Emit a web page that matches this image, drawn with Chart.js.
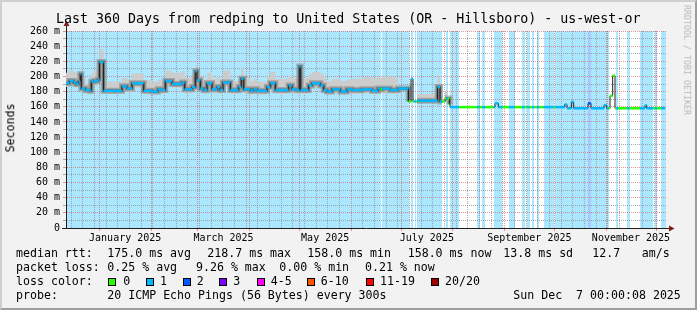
<!DOCTYPE html>
<html lang="en">
<head>
<meta charset="UTF-8">
<title>redping - us-west-or</title>
<script src="https://cdn.jsdelivr.net/npm/chart.js"></script>
<style>
  html, body { margin: 0; padding: 0; background: #f2f2f2; }
  #frame { position: relative; width: 697px; height: 310px; background: #f2f2f2; overflow: hidden;
           font-family: "DejaVu Sans Mono", monospace; color: #000; }
  #frame canvas { position: absolute; left: 0; top: 0; }
  .t { position: absolute; white-space: pre; line-height: 1; }
  .lg { font-size: 11.6px; }
  .box { position: absolute; width: 6px; height: 6px; border: 1px solid #000; }
  #shade { position: absolute; left: 0; top: 0; width: 697px; height: 310px; box-sizing: border-box;
           border-top: 2px solid #cfcfcf; border-left: 2px solid #cfcfcf;
           border-right: 2px solid #9e9e9e; border-bottom: 2px solid #9e9e9e; pointer-events: none; }
</style>
</head>
<body>
<div id="frame">
  <canvas id="c" width="697" height="310"></canvas>
  <div class="t" style="left:56px; top:12px; font-size:13.3px;">Last 360 Days from redping to United States (OR - Hillsboro) - us-west-or</div>
  <div class="t lg" style="left:10.5px; top:128px; transform:translate(-50%,-50%) rotate(-90deg);">Seconds</div>
  <div class="t" style="left:687px; top:60px; font-size:8.3px; color:#b8b8b8; transform:translate(-50%,-50%) rotate(90deg);">RRDTOOL / TOBI OETIKER</div>

  <div class="t lg" style="left:16px; top:247.5px;">median rtt:</div>
  <div class="t lg" style="left:107.3px; top:247.5px;">175.0 ms avg</div>
  <div class="t lg" style="left:207.3px; top:247.5px;">218.7 ms max</div>
  <div class="t lg" style="left:307.3px; top:247.5px;">158.0 ms min</div>
  <div class="t lg" style="left:407.7px; top:247.5px;">158.0 ms now</div>
  <div class="t lg" style="left:503.3px; top:247.5px;">13.8 ms sd</div>
  <div class="t lg" style="left:592.3px; top:247.5px;">12.7</div>
  <div class="t lg" style="left:641.7px; top:247.5px;">am/s</div>

  <div class="t lg" style="left:16px; top:261.5px;">packet loss:</div>
  <div class="t lg" style="left:107.3px; top:261.5px;">0.25 % avg</div>
  <div class="t lg" style="left:196px; top:261.5px;">9.26 % max</div>
  <div class="t lg" style="left:279.3px; top:261.5px;">0.00 % min</div>
  <div class="t lg" style="left:365px; top:261.5px;">0.21 % now</div>

  <div class="t lg" style="left:16px; top:275.5px;">loss color:</div>
  <div id="lossLegend"></div>

  <div class="t lg" style="left:16px; top:289.5px;">probe:</div>
  <div class="t lg" style="left:107.3px; top:289.5px;">20 ICMP Echo Pings (56 Bytes) every 300s</div>
  <div class="t lg" style="left:513.3px; top:289.5px;">Sun Dec  7 00:00:08 2025</div>
  <div id="shade"></div>
</div>
<script>
// day 0 = Dec 12 2024, day 360 = Dec 7 2025
// median rtt steps: each entry holds from medDay[i] to the next one
const medDay = [
  0, 2.0, 4.6, 6.0, 7.6, 8.6, 9.2, 11.6, 14.6, 15.2,
  16.6, 19.2, 20.1, 22.5, 33.6, 36.6, 39.6, 46.6, 51.6, 55.2,
  57.6, 59.6, 63.6, 69.6, 71.2, 75.6, 77.6, 78.6, 80.6, 82.6,
  84.6, 87.6, 90.6, 92.4, 94.2, 98.6, 103.6, 105.2, 106.6, 110.6,
  112.6, 114.6, 120.6, 122.6, 125.6, 133.6, 135.6, 138.6, 140.0, 140.8,
  145.6, 147.6, 152.6, 154.6, 156.6, 159.6, 164.6, 168.6, 171.6, 177.6,
  183.6, 187.2, 188.7, 189.6, 194.4, 199.2, 205.5, 207.0, 208.2, 209.1,
  210.0, 210.6, 222.9, 224.4, 225.6, 227.4, 228.0, 228.9, 230.1, 230.4,
  235.8, 246.6, 248.1, 249.6, 251.7, 256.5, 257.4, 259.4, 261.9, 265.8,
  269.1, 273.6, 275.2, 276.6, 278.1, 279.6, 281.0, 282.4, 284.0, 286.6,
  292.5, 293.4, 299.2, 300.6, 303.2, 304.6, 313.2, 315.0, 322.8, 324.3,
  325.6, 326.4, 328.0, 329.4, 330.0, 331.2, 336.6, 338.1, 344.4, 347.4,
  348.4, 352.2, 353.4, 354.6, 357.0
];
const medVal = [
  191, 194, 192, 190, 193, 203, 184, 182, 181, 193,
  194, 196, 219, 181, 187, 184, 191, 181, 180, 183,
  182, 194, 190, 192, 183, 186, 207, 195, 184, 182,
  191, 183, 186, 182, 192, 182, 186, 197, 183, 181,
  183, 181, 186, 191, 182, 188, 183, 182, 213, 182,
  188, 191, 188, 182, 180, 183, 180, 183, 182, 183,
  181, 184, 183, 184, 182, 184, 167, 197, 167, 167,
  167, 168, 186, 167, 167, 171, 171, 171, 163, 159.5,
  159.5, 159.5, 159.5, 159.5, 159.5, 159.5, 164.5, 159.5, 159.5, 159.5,
  159.5, 159.5, 159.5, 159.5, 159.5, 159.5, 159.5, 159.5, 159.5, 159.5,
  159.5, 159.5, 163, 158, 166.5, 158, 164.5, 158, 162, 158,
  158, 174.5, 201, 158, 158, 158, 158, 158, 158, 162,
  158, 158, 158, 158, 158
];
// lost pings out of 20 for each step
const medLoss = [
  1, 1, 1, 1, 1, 1, 1, 1, 1, 1,
  1, 1, 1, 1, 1, 1, 1, 1, 1, 1,
  1, 1, 1, 1, 1, 1, 1, 1, 1, 1,
  1, 1, 1, 1, 1, 1, 1, 1, 1, 1,
  1, 1, 1, 1, 1, 1, 1, 1, 1, 1,
  1, 1, 1, 1, 1, 1, 1, 1, 1, 1,
  1, 1, 0, 1, 1, 1, 0, 1, 0, 1,
  0, 1, 1, 1, 0, 0, 1, 0, 0, 1,
  0, 1, 0, 1, 0, 1, 1, 1, 0, 1,
  0, 1, 0, 1, 0, 1, 0, 1, 0, 1,
  0, 1, 1, 1, 1, 1, 2, 1, 1, 1,
  0, 0, 0, 0, 1, 0, 1, 0, 1, 1,
  1, 0, 1, 0, 1
];
// smoke spread (lowest / highest ping)
const smokeLo = [
  186, 188, 187, 185, 187, 188, 179, 177, 176, 187,
  188, 190, 197, 177, 182, 179, 185, 177, 176, 178,
  177, 187, 185, 186, 178, 181, 190, 188, 179, 177,
  185, 178, 181, 177, 186, 177, 181, 188, 178, 176,
  178, 176, 181, 185, 177, 183, 178, 177, 185, 177,
  183, 185, 183, 177, 176, 178, 176, 178, 177, 178,
  177, 178, 178, 178, 177, 178, null, null, null, null,
  null, 166, 168, 166, null, 166, 166, 166, null, null
];
const smokeHi = [
  205, 208, 206, 204, 207, 211, 199, 191, 189, 204,
  208, 211, 236, 193, 198, 196, 204, 195, 193, 196,
  193, 208, 205, 207, 198, 201, 214, 208, 199, 196,
  205, 197, 200, 195, 208, 194, 200, 211, 198, 194,
  197, 193, 200, 206, 197, 201, 198, 196, 221, 198,
  203, 206, 204, 198, 194, 197, 194, 196, 197, 199,
  198, 200, 198, 200, 199, 200, null, null, null, null,
  null, 177, 200, 172, null, 180, 182, 204, null, null
];
const endDay = 359.5;

const yTicks = [0, 10, 20, 30, 40, 50, 60, 70, 80, 90, 100, 110, 120, 130,
                140, 150, 160, 170, 180, 190, 200, 210, 220, 230, 240, 250, 260];
const monthDays = [20, 51, 79, 110, 140, 171, 201, 232, 263, 293, 324, 354];
const labelDays = [35.5, 94.5, 155.5, 216.5, 278, 339];
const labelText = ['January 2025', 'March 2025', 'May 2025', 'July 2025', 'September 2025', 'November 2025'];
const sundays = [];
for (let d = 3; d < 360; d += 7) sundays.push(d);

const lossColor = ['#26ff00', '#00b8ff', '#0059ff', '#7e00ff', '#ff00ff', '#ff5500', '#ff0000', '#a10000'];
const lossNames = ['0', '1', '2', '3', '4-5', '6-10', '11-19', '20/20'];
const lossBg = [null, 'rgb(171,232,255)', 'rgb(171,200,255)'];

const MGRID = 'rgba(222,79,79,0.6)';
const GRID = 'rgba(143,143,143,0.75)';
const MONO = '"DejaVu Sans Mono", monospace';

// legend swatches
const boxX = [108.3, 145.7, 182.7, 219.3, 256.7, 306.7, 365.7, 430.7];
const boxLabelX = [123.3, 160, 196.7, 233.3, 270.7, 320.7, 380, 445];
const leg = document.getElementById('lossLegend');
lossNames.forEach((n, i) => {
  const b = document.createElement('div');
  b.className = 'box';
  b.style.left = boxX[i] + 'px';
  b.style.top = '277.7px';
  b.style.background = lossColor[i];
  leg.appendChild(b);
  const t = document.createElement('div');
  t.className = 't lg';
  t.style.left = boxLabelX[i] + 'px';
  t.style.top = '275.5px';
  t.textContent = n;
  leg.appendChild(t);
});

const pts = vals => medDay.map((d, i) => ({x: d, y: vals[i] === undefined ? null : vals[i]}))
  .concat([{x: endDay, y: vals[medDay.length - 1] === undefined ? null : vals[medDay.length - 1]}]);

// coloured median pieces (horizontal only)
const pieces = [];
medDay.forEach((d, i) => {
  const d1 = i + 1 < medDay.length ? medDay[i + 1] : endDay;
  pieces.push({x: d, y: medVal[i]}, {x: d1, y: medVal[i]}, {x: d1, y: null});
});

const hasSmoke = i => smokeHi[i] !== undefined && smokeHi[i] !== null;

const xTicks = [...new Set([...sundays, ...monthDays, ...labelDays])].sort((a, b) => a - b);

const rrdPlugin = {
  id: 'rrd',
  beforeDraw(chart) {
    const {ctx, chartArea: a, scales: {x}} = chart;
    ctx.save();
    ctx.fillStyle = '#fff';
    ctx.fillRect(a.left, a.top, a.right - a.left, a.bottom - a.top);
    for (let i = 0; i < medDay.length; i++) {
      const l = medLoss[i];
      if (!l) continue;
      const x0 = Math.round(x.getPixelForValue(medDay[i]));
      const x1 = Math.round(x.getPixelForValue(i + 1 < medDay.length ? medDay[i + 1] : x.max));
      ctx.fillStyle = lossBg[l];
      ctx.fillRect(x0, a.top, x1 - x0, a.bottom - a.top);
    }
    ctx.restore();
  },
  afterDraw(chart) {
    const {ctx, chartArea: a} = chart;
    ctx.save();
    ctx.strokeStyle = '#1f1f1f';
    ctx.lineWidth = 1;
    ctx.beginPath();
    ctx.moveTo(a.left + 0.5, a.top);
    ctx.lineTo(a.left + 0.5, a.top - 6);
    ctx.moveTo(a.left - 4, a.bottom + 0.5);
    ctx.lineTo(a.left, a.bottom + 0.5);
    ctx.moveTo(a.right, a.bottom + 0.5);
    ctx.lineTo(a.right + 4, a.bottom + 0.5);
    ctx.stroke();
    ctx.fillStyle = '#801f1f';
    ctx.beginPath();
    ctx.moveTo(a.left - 2.5, a.top - 5);
    ctx.lineTo(a.left + 3.5, a.top - 5);
    ctx.lineTo(a.left + 0.5, a.top - 10.5);
    ctx.closePath();
    ctx.fill();
    ctx.beginPath();
    ctx.moveTo(a.right + 3, a.bottom - 2.5);
    ctx.lineTo(a.right + 3, a.bottom + 3.5);
    ctx.lineTo(a.right + 8.5, a.bottom + 0.5);
    ctx.closePath();
    ctx.fill();
    ctx.restore();
  }
};

Chart.defaults.font.family = MONO;

new Chart(document.getElementById('c'), {
  type: 'line',
  data: {
    datasets: [
      {data: pts(smokeLo), stepped: true, borderWidth: 0, pointRadius: 0, fill: false, order: 9},
      {data: pts(smokeHi), stepped: true, borderWidth: 0, pointRadius: 0, fill: '-1',
       backgroundColor: '#cccccc', order: 8},
      {data: pts(medVal), stepped: true, borderWidth: 6, pointRadius: 0, fill: false, order: 7,
       segment: {borderColor: c => hasSmoke(c.p0DataIndex) ? 'rgba(130,130,130,0.55)' : 'rgba(0,0,0,0)'}},
      {data: pts(medVal), stepped: true, borderWidth: 3, pointRadius: 0, fill: false, order: 6,
       segment: {borderColor: c => hasSmoke(c.p0DataIndex) ? 'rgba(70,70,70,0.5)' : 'rgba(0,0,0,0)'}},
      {data: pts(medVal), stepped: true, borderWidth: 1, borderColor: '#202020', pointRadius: 0, fill: false, order: 5},
      {data: pieces, borderWidth: 2.5, borderCapStyle: 'butt', pointRadius: 0, fill: false, spanGaps: false, order: 4,
       segment: {borderColor: c => lossColor[medLoss[Math.floor(c.p0DataIndex / 3)]]}}
    ]
  },
  options: {
    responsive: false,
    animation: false,
    devicePixelRatio: 1,
    layout: {padding: {left: 0, top: 31, right: 31, bottom: 62}},
    plugins: {legend: {display: false}, tooltip: {enabled: false}, title: {display: false}},
    scales: {
      x: {
        type: 'linear', min: 0, max: 360, z: 1,
        afterBuildTicks: s => { s.ticks = xTicks.map(v => ({value: v})); },
        afterFit: s => { s.height = 20; },
        ticks: {
          autoSkip: false, maxRotation: 0, padding: 1, color: '#000', font: {size: 10},
          callback: v => { const k = labelDays.indexOf(v); return k >= 0 ? labelText[k] : ''; }
        },
        grid: {
          lineWidth: 1, tickLength: 3,
          color: c => labelDays.includes(c.tick.value) ? 'rgba(0,0,0,0)' : (monthDays.includes(c.tick.value) ? MGRID : GRID),
          tickColor: c => monthDays.includes(c.tick.value) ? MGRID : 'rgba(0,0,0,0)'
        },
        border: {color: '#1f1f1f', dash: [1, 1]}
      },
      y: {
        min: 0, max: 260, z: 1,
        afterBuildTicks: s => { s.ticks = yTicks.map(v => ({value: v})); },
        afterFit: s => { s.width = 66; },
        ticks: {
          autoSkip: false, padding: 3, color: '#000', font: {size: 10},
          callback: v => v % 20 ? '' : (v ? v + ' m' : '0')
        },
        grid: {
          lineWidth: 1, tickLength: 3,
          color: c => c.tick.value % 20 ? GRID : MGRID,
          tickColor: c => c.tick.value % 20 ? GRID : MGRID
        },
        border: {color: '#1f1f1f', dash: [1, 1]}
      }
    }
  },
  plugins: [rrdPlugin]
});
</script>
</body>
</html>
